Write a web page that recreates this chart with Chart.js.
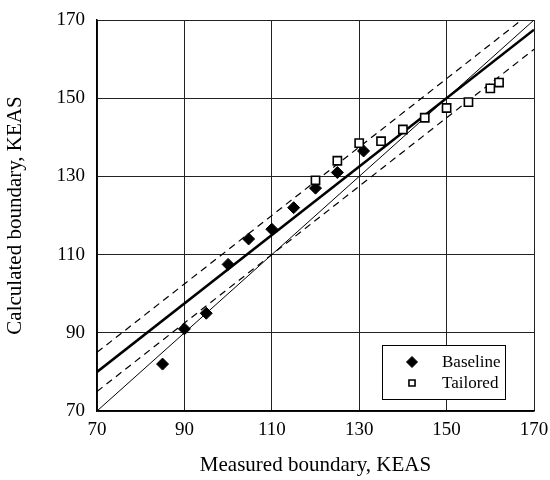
<!DOCTYPE html>
<html>
<head>
<meta charset="utf-8">
<script src="https://cdn.jsdelivr.net/npm/chart.js@4.4.1/dist/chart.umd.min.js"></script>
<style>
  html, body { margin: 0; padding: 0; background: #fff; }
  #wrap { width: 550px; height: 480px; }
</style>
</head>
<body>
<div id="wrap"><canvas id="boundaryChart"></canvas></div>
<script>
// Measured vs calculated boundary speeds (KEAS)
const baselineX = [85, 90, 95, 100, 104.7, 110, 115, 120, 125, 131];
const baselineY = [82, 91, 95, 107.5, 114, 116.5, 122, 127, 131, 136.5];

const tailoredX = [120, 125, 130, 135, 140, 145, 150, 155, 160, 162];
const tailoredY = [129, 134, 138.5, 139, 142, 145, 147.5, 149, 152.5, 154];

// fit line, its +/- bands and the line of perfect agreement
const lineX = [70, 170];
const fitY = [80, 167.5];
const upperY = [85, 172.5];
const lowerY = [75, 162.5];
const unityY = [70, 170];

const axisTicks = [70, 90, 110, 130, 150, 170];

function toPoints(xs, ys) {
    return xs.map((x, i) => ({ x: x, y: ys[i] }));
}

const serif = 'Liberation Serif, Times New Roman, serif';

// small boxed legend in the lower right of the plot
const boxLegend = {
    id: 'boxLegend',
    afterDraw(chart) {
        const ctx = chart.ctx;
        const area = chart.chartArea;
        const w = 123, h = 54;
        const left = area.right - 152;
        const top = area.bottom - 12 - h;
        ctx.save();
        ctx.fillStyle = '#fff';
        ctx.fillRect(left, top, w, h);
        ctx.strokeStyle = '#000';
        ctx.lineWidth = 1;
        ctx.strokeRect(left + 0.5, top + 0.5, w, h);

        const entries = chart.data.datasets.filter(d => d.inLegend);
        ctx.font = '17px ' + serif;
        ctx.textBaseline = 'middle';
        ctx.textAlign = 'left';
        entries.forEach((d, i) => {
            const y = top + 17 + i * 21;
            ctx.fillStyle = d.backgroundColor;
            ctx.strokeStyle = d.borderColor;
            ctx.lineWidth = d.borderWidth;
            Chart.helpers.drawPoint(ctx, {
                pointStyle: d.pointStyle,
                radius: d.legendRadius,
                borderWidth: d.borderWidth
            }, left + 30, y);
            ctx.fillStyle = '#000';
            ctx.fillText(d.label, left + 60, y + 1);
        });
        ctx.restore();
    }
};

const ctx = document.getElementById('boundaryChart').getContext('2d');
new Chart(ctx, {
    type: 'scatter',
    data: {
        datasets: [
            {
                label: 'Baseline',
                inLegend: true,
                data: toPoints(baselineX, baselineY),
                pointStyle: 'rectRot',
                pointRadius: 6,
                legendRadius: 5.5,
                backgroundColor: '#000',
                borderColor: '#000',
                borderWidth: 1,
                order: 1
            },
            {
                label: 'Tailored',
                inLegend: true,
                data: toPoints(tailoredX, tailoredY),
                pointStyle: 'rect',
                pointRadius: 5.8,
                legendRadius: 4.3,
                backgroundColor: '#fff',
                borderColor: '#000',
                borderWidth: 1.6,
                order: 0
            },
            {
                label: 'Fit',
                data: toPoints(lineX, fitY),
                showLine: true,
                pointRadius: 0,
                borderColor: '#000',
                borderWidth: 2.5,
                order: 2
            },
            {
                label: 'Upper band',
                data: toPoints(lineX, upperY),
                showLine: true,
                pointRadius: 0,
                borderColor: '#000',
                borderWidth: 1.2,
                borderDash: [7, 5],
                order: 3
            },
            {
                label: 'Lower band',
                data: toPoints(lineX, lowerY),
                showLine: true,
                pointRadius: 0,
                borderColor: '#000',
                borderWidth: 1.2,
                borderDash: [7, 5],
                order: 3
            },
            {
                label: 'Unity',
                data: toPoints(lineX, unityY),
                showLine: true,
                pointRadius: 0,
                borderColor: '#000',
                borderWidth: 1,
                order: 4
            }
        ]
    },
    options: {
        responsive: true,
        maintainAspectRatio: false,
        animation: false,
        layout: { padding: { top: 20, right: 16, left: 0, bottom: 0 } },
        plugins: {
            legend: { display: false },
            tooltip: { enabled: false }
        },
        scales: {
            x: {
                type: 'linear',
                min: 70,
                max: 170,
                afterBuildTicks: scale => { scale.ticks = axisTicks.map(v => ({ value: v })); },
                afterFit: scale => {
                    scale.height = 69;
                    scale.paddingLeft = 0;
                    scale.paddingRight = 0;
                },
                ticks: {
                    color: '#000',
                    padding: 8,
                    font: { family: serif, size: 19 }
                },
                grid: { color: '#222', lineWidth: 1, drawTicks: false },
                border: { color: '#000', width: 1.5 },
                title: {
                    display: true,
                    text: 'Measured boundary, KEAS',
                    color: '#000',
                    padding: { top: 0, bottom: 2 },
                    font: { family: serif, size: 21 }
                }
            },
            y: {
                type: 'linear',
                min: 70,
                max: 170,
                afterBuildTicks: scale => { scale.ticks = axisTicks.map(v => ({ value: v })); },
                afterFit: scale => {
                    scale.width = 97;
                    scale.paddingTop = 0;
                    scale.paddingBottom = 0;
                },
                ticks: {
                    color: '#000',
                    padding: 12,
                    font: { family: serif, size: 19 }
                },
                grid: { color: '#222', lineWidth: 1, drawTicks: false },
                border: { color: '#000', width: 1.5 },
                title: {
                    display: true,
                    text: 'Calculated boundary, KEAS',
                    color: '#000',
                    padding: { top: 3, bottom: 0 },
                    font: { family: serif, size: 21 }
                }
            }
        }
    },
    plugins: [boxLegend]
});
</script>
</body>
</html>
